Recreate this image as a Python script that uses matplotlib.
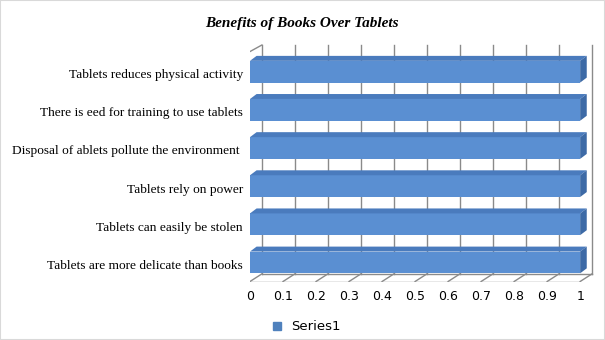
import matplotlib as mpl
mpl.use('Agg')
import matplotlib.pyplot as plt
from matplotlib.patches import Polygon, Rectangle
from matplotlib.lines import Line2D

categories = [
    'Tablets are more delicate than books',
    'Tablets can easily be stolen',
    'Tablets rely on power',
    'Disposal of ablets pollute the environment ',
    'There is eed for training to use tablets',
    'Tablets reduces physical activity',
]
values = [1, 1, 1, 1, 1, 1]
ticks = [0, 0.1, 0.2, 0.3, 0.4, 0.5, 0.6, 0.7, 0.8, 0.9, 1]
tick_labels = ['0', '0.1', '0.2', '0.3', '0.4', '0.5', '0.6', '0.7', '0.8', '0.9', '1']

FRONT = '#5a8fd2'
TOP = '#4a7bbd'
SIDE = '#3d6aa6'
GRID = '#8a8a8a'

# depth offsets of the back wall and of the bars (data units)
wall_dx, wall_dy = 0.036, 0.2
bar_dx, bar_dy = 0.02, 0.13
bar_h = 0.57
y_floor = -0.5
y_top = 5.7

W, H = 605, 340
fig = plt.figure(figsize=(W / 100, H / 100), dpi=100)
ax = fig.add_axes([250 / W, (H - 281.5) / H, 345 / W, 238.4 / H])
ax.set_xlim(0, 1.045)
ax.set_ylim(y_floor, 5.75)
for s in ax.spines.values():
    s.set_visible(False)

# back wall gridlines
for t in ticks:
    ax.plot([t + wall_dx, t + wall_dx], [y_floor + wall_dy, y_top],
            color=GRID, lw=1, zorder=1)
# floor
ax.plot([0, 1], [y_floor, y_floor], color=GRID, lw=1, zorder=1)
ax.plot([wall_dx, 1 + wall_dx], [y_floor + wall_dy] * 2, color=GRID, lw=1, zorder=1)
for t in ticks:
    ax.plot([t, t + wall_dx], [y_floor, y_floor + wall_dy], color=GRID, lw=1, zorder=1)
# side wall
ax.plot([-0.006, -0.006, wall_dx], [y_floor, y_top - wall_dy, y_top],
        color=GRID, lw=1, zorder=1)

ypos = list(range(len(categories)))
ax.barh(ypos, values, height=bar_h, color=FRONT, zorder=3)
for y, v in zip(ypos, values):
    top = y + bar_h / 2
    bot = y - bar_h / 2
    ax.add_patch(Polygon([(0, top), (v, top), (v + bar_dx, top + bar_dy),
                          (bar_dx, top + bar_dy)], closed=True,
                         facecolor=TOP, edgecolor='none', zorder=3))
    ax.add_patch(Polygon([(v, bot), (v, top), (v + bar_dx, top + bar_dy),
                          (v + bar_dx, bot + bar_dy)], closed=True,
                         facecolor=SIDE, edgecolor='none', zorder=3))

ax.set_xticks(ticks)
ax.set_xticklabels(tick_labels, fontsize=9, family='DejaVu Sans')
ax.set_yticks([y - 0.05 for y in ypos])
ax.set_yticklabels(categories, fontsize=9.6, family='Liberation Serif')
ax.tick_params(axis='both', length=0)
ax.tick_params(axis='x', pad=6)
ax.tick_params(axis='y', pad=5)

fig.text(302 / W, 1 - 24 / H, 'Benefits of Books Over Tablets', ha='center', va='center',
         family='Liberation Serif', fontsize=11, fontweight='bold', style='italic')

handle = Line2D([], [], marker='s', linestyle='none', color='#4f81bd', markersize=6)
fig.legend([handle], ['Series1'], loc='center', bbox_to_anchor=(302 / W, 1 - 327 / H),
           frameon=False, handletextpad=0.1, prop={'family': 'DejaVu Sans', 'size': 9.5})

fig.patches.append(Rectangle((0, 0), 1, 1, transform=fig.transFigure, fill=False,
                             edgecolor='#d9d9d9', lw=1.5))

fig.savefig('out.png', dpi=100)
plt.close(fig)
